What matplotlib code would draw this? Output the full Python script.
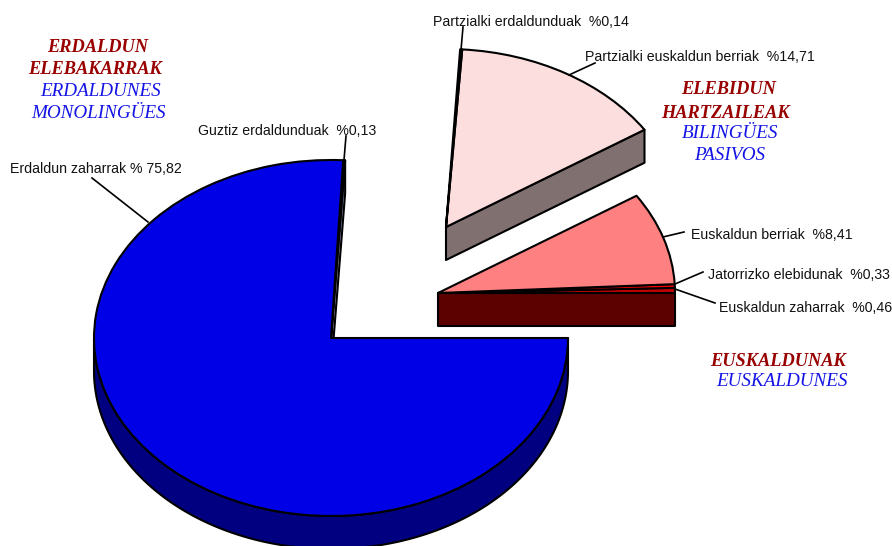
import numpy as np
import matplotlib
matplotlib.use("Agg")
import matplotlib.pyplot as plt

W, H = 892, 546
RX, RY = 237.0, 178.0
DEPTH = 33

# share of each category, counter-clockwise starting from the 3 o'clock position
labels = ["Euskaldun zaharrak  %0,46", "Jatorrizko elebidunak  %0,33", "Euskaldun berriak  %8,41",
          "Partzialki euskaldun berriak  %14,71", "Partzialki erdaldunduak  %0,14",
          "Guztiz erdaldunduak  %0,13", "Erdaldun zaharrak % 75,82"]
values = [0.46, 0.33, 8.41, 14.71, 0.14, 0.13, 75.82]
top_colors = ["#C00000", "#FF0000", "#FF8080", "#FCDEDE", "#F4F4F4", "#A0A0C8", "#0000E6"]

group_euskaldun = [0, 1, 2]
group_elebidun = [3, 4]
group_erdaldun = [5, 6]
center_euskaldun = (438, 293)
center_elebidun = (446, 227)
center_erdaldun = (331, 338)

side_euskaldun = "#5C0000"
side_elebidun = "#807070"
side_erdaldun = "#000080"
side_guztiz = "#A0A0C8"

label_pos = [(719, 308), (708, 275), (691, 235), (585, 57), (433, 22), (198, 131), (10, 169)]
leaders = [((675, 289), (715, 303)), ((675, 284), (703, 272)), ((663, 237), (684, 232)),
           ((569, 75), (595, 63)), ((461, 50), (463, 27)), ((344, 160), (346, 136)),
           ((148, 222), (92, 178))]

RED = "#990000"
BLUE = "#1414E6"
captions = [("ERDALDUN", 98, 48, RED, True), ("ELEBAKARRAK", 95, 70, RED, True),
            ("ERDALDUNES", 101, 91, BLUE, False), ("MONOLINGÜES", 99, 113, BLUE, False),
            ("ELEBIDUN", 729, 90, RED, True), ("HARTZAILEAK", 725, 113, RED, True),
            ("BILINGÜES", 730, 133, BLUE, False), ("PASIVOS", 730, 155, BLUE, False),
            ("EUSKALDUNAK", 778, 361, RED, True), ("EUSKALDUNES", 782, 381, BLUE, False)]

fig = plt.figure(figsize=(W / 100, H / 100), dpi=100)
ax = fig.add_axes([0, 0, 1, 1])


def X(px):
    return px / RX


def Y(py):
    return (H - py) / RY


def start_angle(idx):
    return sum(values[:idx]) * 3.6


def draw_group(idx, center):
    ax.pie([values[i] / 100 for i in idx], startangle=start_angle(idx[0]), normalize=False,
           colors=[top_colors[i] for i in idx], center=(X(center[0]), Y(center[1])), radius=1,
           wedgeprops=dict(edgecolor="black", linewidth=1.5, joinstyle="round"), frame=False)


def extrude(points, color, z=1):
    pts = np.array(points)
    low = pts - [0, DEPTH / RY]
    poly = np.vstack([pts, low[::-1]])
    ax.fill(poly[:, 0], poly[:, 1], facecolor=color, edgecolor="black", linewidth=1.5, zorder=z,
            joinstyle="round")


def edge_points(center, deg):
    cx, cy = X(center[0]), Y(center[1])
    t = np.radians(deg)
    return [(cx, cy), (cx + np.cos(t), cy + np.sin(t))]


# outer rim of the big slice (front half only) and the cut face beside the thin slice
cx, cy = X(center_erdaldun[0]), Y(center_erdaldun[1])
theta = np.radians(np.linspace(180, 360, 181))
extrude(np.column_stack([cx + np.cos(theta), cy + np.sin(theta)]), side_erdaldun)
extrude(edge_points(center_erdaldun, start_angle(group_erdaldun[0])), side_guztiz)
draw_group(group_erdaldun, center_erdaldun)

# cut faces of the two exploded groups
extrude(edge_points(center_elebidun, start_angle(group_elebidun[0])), side_elebidun)
draw_group(group_elebidun, center_elebidun)
extrude(edge_points(center_euskaldun, 0), side_euskaldun)
draw_group(group_euskaldun, center_euskaldun)

for a, b in leaders:
    ax.plot([X(a[0]), X(b[0])], [Y(a[1]), Y(b[1])], color="black", lw=1.2, zorder=6)

for s, (px, py) in zip(labels, label_pos):
    ax.text(X(px), Y(py), s, ha="left", va="center", fontsize=10.15, family="Liberation Sans",
            color="#111111", zorder=7)

for s, px, py, c, bold in captions:
    ax.text(X(px), Y(py), s, ha="center", va="center", fontsize=13.2 if bold else 13.8,
            family="Liberation Serif", style="italic", weight="bold" if bold else "normal",
            color=c, zorder=7)

ax.set_aspect("auto")
ax.set_xlim(0, W / RX)
ax.set_ylim(0, H / RY)
ax.axis("off")
fig.savefig("out.png", dpi=100)
